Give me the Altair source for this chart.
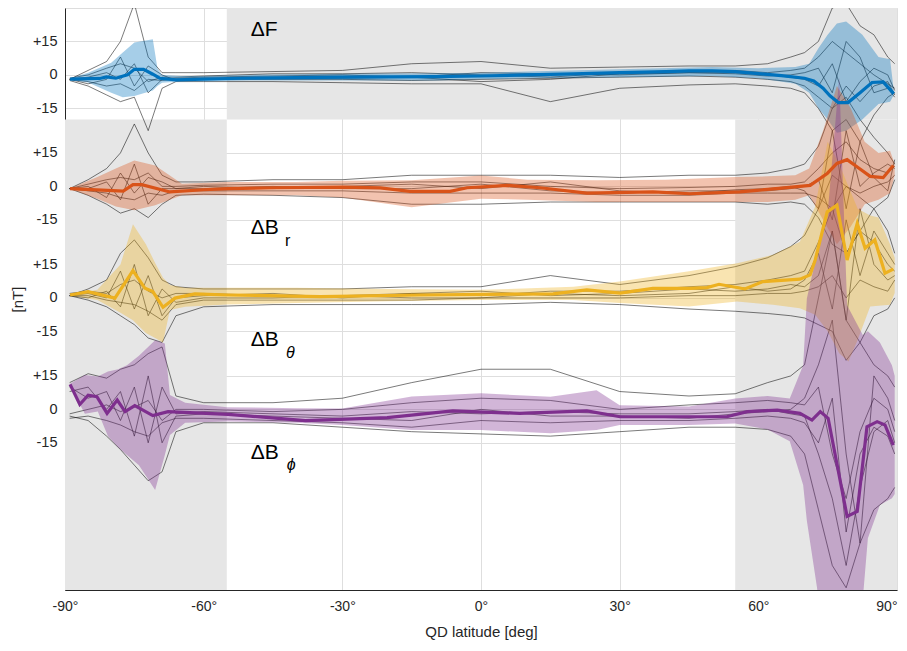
import altair as alt
import pandas as pd

# ---------------- data ----------------
comp_names = ["dF", "dBr", "dBtheta", "dBphi"]
comp_offsets = [0, -50, -100, -150]
comp_colors = ["#0072BD", "#D95319", "#EDB120", "#7E2F8E"]

x_ticks = [-90, -60, -30, 0, 30, 60, 90]
y_tick_labels = ["+15", "0", "-15"]
y_ticks = [15, 0, -15, -35, -50, -65, -85, -100, -115, -135, -150, -165]

# mean curves (relative, nT)
F_lat = [-88.9, -82.5, -81, -79, -76.5, -75, -73, -71, -69.5, -66, -60, -52, -40, -30, -20, -10, 0, 10, 20, 30, 40, 45, 50, 55, 60, 65, 70, 72, 74, 75.5, 77.3, 79.4, 82, 84.6, 87, 89.3]
F_val = [-1.9, -1.6, -0.9, -1.5, 0, 2.5, 2.5, 0.3, -1.5, -2.2, -1.9, -1.5, -1.2, -1.0, -0.9, -0.8, -0.5, 0, 0.5, 1.0, 1.5, 1.8, 1.8, 1.5, 0.6, -0.3, -1.5, -2.7, -6, -9.4, -12.4, -12.4, -8, -3.4, -3.1, -8.4]
Br_lat = [-88.9, -77.4, -75.3, -73.4, -67.3, -60, -54.7, -45, -30, -21.8, -15.4, -6.7, -3, 5.6, 12.8, 22.9, 37.2, 45.2, 56, 59.7, 65, 71.2, 74.9, 77, 79.2, 81.4, 84.2, 87, 89.2]
Br_val = [-1.0, -2.1, 0.8, 0.8, -2.5, -1.5, -1.0, -0.6, -0.3, -0.7, -2.2, -2.2, -0.6, 0.45, -0.6, -3.0, -2.5, -3.3, -2.5, -1.8, -0.8, 0.45, 5.8, 10.3, 12, 8.7, 4.5, 3.9, 9.4]
Th_lat = [-88.9, -85, -79.2, -75.3, -72.7, -71, -68.8, -66.2, -61.9, -54.7, -34.8, -13.2, 1.3, 15.6, 22.9, 30.1, 37.2, 45.2, 48.9, 51.5, 57.1, 61, 69, 71.2, 72.3, 74.9, 77, 79.2, 81.4, 83.1, 85.2, 87.4, 89.2]
Th_val = [1.3, 2.8, -0.1, 12.2, 4.3, 2.8, -4.2, -0.1, 1.8, 1.3, 0.6, 1.3, 1.6, 1.8, 3.6, 2.1, 4.3, 4.3, 4.6, 6.1, 4.0, 7.3, 8.4, 10.3, 17, 38.6, 41.6, 17, 33.4, 22.3, 26, 11.1, 12.9]
Ph_lat = [-88.9, -86.8, -85, -83.1, -80.9, -78.7, -77, -74.9, -71, -67.7, -54.7, -38, -20.3, -6.1, 8.4, 22.9, 30.1, 45.2, 53.2, 57.6, 64.1, 69, 71.6, 73.4, 75.1, 79.2, 81.4, 83.5, 85.7, 87.4, 89.2]
Ph_val = [11.2, 2.2, 6.4, 5.7, -1.8, 4.2, -1.0, 1.7, -2.8, -1.0, -2.2, -5.0, -3.7, -0.7, -1.8, -0.7, -3.3, -3.3, -3.3, -1.0, -0.3, -1.8, -4.8, -1.0, -4.0, -48, -45.8, -7.8, -5.5, -7.0, -16.0]

# spread bands (relative, nT)
F_band_lat = [-88.9, -85, -80, -77.5, -75, -71, -70, -69, -65, -60, -50, -30, -10, 0, 10, 30, 50, 60, 68, 71, 73, 75, 77, 79, 82.5, 86, 88.5, 89.3]
F_hi = [-1.5, 1, 5.5, 10, 14.5, 16, 3, 0, -0.5, -0.5, 0, 0.5, 0.7, 1, 1.5, 2.5, 3.5, 3, 3.5, 5, 12, 18, 23, 24, 18, 8, 7, -7]
F_lo = [-2.3, -3.4, -8, -10, -9.5, -7, -5, -3.5, -3, -3, -2.5, -2.5, -2.5, -2, -1.5, -1, -0.5, -1.5, -4, -8, -15, -20, -26, -25, -20, -13, -12, -9]
Br_band_lat = [-88.9, -83, -79, -75, -70.5, -64.7, -55, -40, -30, -15, 0, 10, 25, 40, 55, 62, 68, 71, 74, 77, 80, 83, 86, 88.5, 89.5]
Br_hi = [-0.8, 4.2, 8, 11.6, 9.4, 1.2, 2, 2, 2.5, 2.7, 4.9, 3, 2.7, 3, 4.2, 4.5, 5, 8, 25, 45, 35, 20, 15, 16, 10]
Br_lo = [-1.2, -5.5, -9, -10.7, -8.5, -4, -4, -4, -5, -9.3, -5.5, -6, -7, -7, -7, -7, -6, -4, -15, -26, -18, -8, -6, -3, 5]
Th_band_lat = [-88.9, -83, -78, -75.3, -72.5, -70.5, -68.8, -67.3, -64, -55, -40, -20, 0, 20, 30, 45, 55.4, 63.2, 69, 72.3, 75, 77.5, 79.5, 81.5, 84.2, 86, 88.5, 89.5]
Th_hi = [1.5, 3.6, 15, 33, 24, 15.7, 9, 5.8, 4.5, 4.5, 4.5, 4, 3.6, 5, 7.3, 12, 15.5, 19.3, 25.2, 41, 70, 60, 50, 40, 37, 36, 24, 18]
Th_lo = [1.0, -0.9, -6.7, -10, -15.7, -18, -20, -5.4, -4, -3, -2.3, -1.5, -0.9, -0.9, -2.3, -3.9, -1.6, -3.1, -4.6, -7.6, -15, -24.8, -28.5, -18.8, -3.9, -3.5, -3.1, 2.2]
Ph_band_lat = [-88.9, -85.7, -82.9, -80.7, -78.5, -76.6, -74, -70.5, -68.4, -67.3, -64, -55, -40, -30, -15, 0, 15, 25, 30, 45, 55, 62, 66.8, 69.7, 70.5, 72.7, 74.9, 77.5, 79.2, 82.6, 83.7, 86.3, 88.9, 89.5]
Ph_hi = [11.5, 15.4, 14.8, 17, 18, 19.8, 24, 31, 29.6, 6.4, 3, 1, 0.5, 0.4, 5.8, 7.2, 5.7, 8.6, 1.9, 1.3, 4.9, 6, 4.9, 19.8, 49.7, 70, 85.5, 149, 46.7, 33.3, 35, 30, 19.8, 15]
Ph_lo = [10.5, -2, -0.9, -12.1, -17, -20.5, -25, -36.1, -20.5, -11.5, -6, -5.4, -6, -7, -9.3, -9.3, -10.7, -9.3, -7, -7, -6.3, -9, -14.3, -33.9, -50, -80, -120, -130, -120, -85, -57.8, -42.9, -39.9, -38]

# individual passes (relative, nT) sampled on a common latitude grid
trace_lat = [-89, -85, -81, -78, -75, -72, -69, -66, -60, -45, -30, -15, 0, 15, 30, 45, 55, 62, 67, 70, 73, 76, 79, 82, 85, 88, 89.5]
F_pass_1 = [-2, 2, 6, 15, 32, 8, 1, 1, 1, 1.5, 2, 5, 6, 3, 3.5, 4, 4, 5, 8, 10, 15, 30, 32, 22, 18, 8, 5]
F_pass_2 = [-2.5, -5, -9, -12, -10, -25, -6, -3, -3, -3, -3.5, -4, -4, -12, -6, -4.5, -4, -5, -6, -8, -15, -25, -20, -30, -18, -10, -8]
F_pass_3 = [-1.5, 0, 3, 5, 3, -3, -1, -1, -0.5, 0.5, 0.5, 1, 0, -1, 1, 2, 2, 1, 2, 3, 8, 15, 10, 5, 0, -4, -6]
F_pass_4 = [-2, -3, -5, -4, -7, -2, -2.5, -2, -2, -2, -2, -2.5, -2, -1.5, -1, -0.5, -1, -2, -3, -5, -10, -15, -5, -12, -5, -3, -9]
F_pass_5 = [-2, -1, 1, -2, 5, -8, -2, -1.5, -1, -0.5, 0, -1, 1, 0.5, 0, 1, 1, 0, -1, -2, -5, 5, -12, -3, 3, 0, -7]
F_pass_6 = [-2, -4, -2, 8, -5, 4, 0, -2.5, -1.5, -1.5, -1.5, -1, -3, -2, 0.5, 1, 0.5, -0.5, 0, 1, 3, -8, 15, 8, -8, -6, -10]
Br_pass_1 = [-1, 3, 8, 15, 28, 15, 5, 2, 2, 3, 3, 5, 5, 5, 4, 5, 5, 6, 8, 10, 18, 35, 40, 30, 22, 15, 10]
Br_pass_2 = [-1, -4, -8, -12, -10, -14, -8, -4, -3.5, -4, -5, -8, -8, -7, -7, -7, -7, -8, -7, -8, -14, -26, -30, -20, -10, -5, 3]
Br_pass_3 = [-1, 1, 3, 4, 3, 6, 0, 0, 0.5, 1, 1, 2, 2, 0, -1, -0.5, 0, 1, 1, 2, 8, 15, 20, 12, 8, 6, 9]
Br_pass_4 = [-1, -2, -3, -5, -6, -3, -4, -2, -2, -2, -2, -3, -3, -3, -4, -4, -3, -3, -3, -3, -5, -10, 0, -3, 0, 2, 5]
Br_pass_5 = [-1, -1, 2, -6, 10, -8, -1, -1, -1, 0, -1, -1, 1, -2, -3, -2, -2, -2, -1, 0, 3, -15, 25, 0, 6, 10, 8]
Br_pass_6 = [-1, 0, -5, 6, -3, 4, 2, -1, 0, -1, 0, 1, -1, 2, -2, -3, -1.5, -1, 0, -2, -10, 25, -10, 20, 4, -2, 12]
Th_pass_1 = [1, 4, 8, 20, 26, 18, 8, 5, 4, 4, 4, 5, 5, 10, 6, 10, 14, 18, 23, 28, 40, 55, 50, 45, 40, 30, 20]
Th_pass_2 = [1, -1, -4, -8, -12, -18, -20, -8, -4, -3, -3, -3, -3, -2, -3, -5, -6, -7, -8, -9, -12, -15, -28, -20, -8, -5, 0]
Th_pass_3 = [2, 3, 2, 6, 8, 3, 0, 2, 2, 1, 1, 2, 1, 3, 3, 5, 6, 8, 10, 12, 25, 40, 20, 30, 25, 15, 12]
Th_pass_4 = [1, 1, -1, -2, -3, -6, -10, -3, -1, -1, -1, -1, 0, 0, 0, 1, 1, 2, 2, 3, 5, 10, 0, 8, 5, 3, 8]
Th_pass_5 = [1, 2, 0, 12, -5, 10, -8, 0, 1, 2, 0, 2, 3, 1, 2, 4, 3, 4, 6, 5, 10, 30, -10, 40, 15, 8, 10]
Th_pass_6 = [1, 0, 3, -4, 15, -8, 4, -2, 0, 0, 1, 0, 0, 2, 1, 2, 5, 3, 4, 8, 20, -5, 35, 10, 30, 20, 15]
Ph_pass_1 = [12, 16, 14, 18, 20, 25, 28, 6, 3, 3, 5, 12, 18, 18, 8, 6, 7, 12, 15, 20, 50, 80, 40, 30, 20, 15, 10]
Ph_pass_2 = [-3, -5, -12, -18, -25, -32, -28, -10, -6, -6, -8, -10, -11, -12, -10, -8, -8, -9, -12, -20, -45, -70, -80, -60, -45, -40, -35]
Ph_pass_3 = [-2, 0, 2, -1, 1, 4, -5, 0, 0, -1, 0, 3, 5, 4, 0, 2, 3, 4, 3, 2, 10, -20, -40, -10, 5, 0, -10]
Ph_pass_4 = [-4, -3, -5, -7, -10, -12, -6, -4, -4, -5, -6, -8, -5, -6, -5, -5, -4, -3, -4, -6, -15, 5, -55, -20, -8, -12, -20]
Ph_pass_5 = [10, 5, 8, -5, 10, -15, 10, -2, -1, -2, -3, -1, -2, -1, -2, -2, -1, 0, -2, -3, -20, -40, -70, -35, -10, -5, -15]
Ph_pass_6 = [8, 10, 0, 8, -12, 15, -15, -3, -2, -3, -4, -5, 0, -3, -3, -4, -2, -1, 0, 5, 20, 40, -20, -60, 15, 5, -5]

# shaded regions (lat from, lat to, y from, y to)
shade_lat1 = [-55, -90, 55]
shade_lat2 = [90, -55, 90]
shade_y1 = [-20, -231, -231]
shade_y2 = [30, -20, -20]

# labels
label_main = ["ΔF", "ΔB", "ΔB", "ΔB"]
label_main_lat = [-49.8, -49.8, -49.8, -49.8]
label_main_y = [20.1, -68.7, -118.8, -169.5]
label_sub_up = ["r"]
label_sub_up_lat = [-42.4]
label_sub_up_y = [-74.5]
label_sub_it = ["θ", "ϕ"]
label_sub_it_lat = [-42.2, -42.0]
label_sub_it_y = [-124.5, -175.0]

# ---------------- tables ----------------
means, bands, passes = [], [], []
mean_src = [(F_lat, F_val), (Br_lat, Br_val), (Th_lat, Th_val), (Ph_lat, Ph_val)]
band_src = [(F_band_lat, F_hi, F_lo), (Br_band_lat, Br_hi, Br_lo), (Th_band_lat, Th_hi, Th_lo), (Ph_band_lat, Ph_hi, Ph_lo)]
pass_src = [[F_pass_1, F_pass_2, F_pass_3, F_pass_4, F_pass_5, F_pass_6],
            [Br_pass_1, Br_pass_2, Br_pass_3, Br_pass_4, Br_pass_5, Br_pass_6],
            [Th_pass_1, Th_pass_2, Th_pass_3, Th_pass_4, Th_pass_5, Th_pass_6],
            [Ph_pass_1, Ph_pass_2, Ph_pass_3, Ph_pass_4, Ph_pass_5, Ph_pass_6]]
for name, off, (la, va), (bl, hi, lo), plist in zip(comp_names, comp_offsets, mean_src, band_src, pass_src):
    means.append(pd.DataFrame({"comp": name, "lat": la, "y": [v + off for v in va]}))
    bands.append(pd.DataFrame({"comp": name, "lat": bl, "y": [v + off for v in hi], "y2": [v + off for v in lo]}))
    for k, pv in enumerate(plist):
        passes.append(pd.DataFrame({"comp": name, "pid": f"{name}_{k}", "lat": trace_lat, "y": [v + off for v in pv]}))
means = pd.concat(means)
bands = pd.concat(bands)
passes = pd.concat(passes)
shade = pd.DataFrame({"lat": shade_lat1, "lat2": shade_lat2, "y": shade_y1, "y2": shade_y2})
lab_main = pd.DataFrame({"t": label_main, "lat": label_main_lat, "y": label_main_y})
lab_sub_up = pd.DataFrame({"t": label_sub_up, "lat": label_sub_up_lat, "y": label_sub_up_y})
lab_sub_it = pd.DataFrame({"t": label_sub_it, "lat": label_sub_it_lat, "y": label_sub_it_y})

FONT = "Liberation Sans"
TXT = "#262626"

x_axis = alt.Axis(values=x_ticks, labelExpr="datum.value + '°'", title="QD latitude [deg]",
                  grid=True, gridColor="#DEDEDE", domainColor=TXT, ticks=False, labelPadding=9,
                  labelFlush=False,
                  labelAlign={"condition": {"test": "datum.value == 90", "value": "right"}, "value": "center"},
                  labelFontSize=14, labelColor=TXT, labelFont=FONT,
                  titleFontSize=15, titleFont=FONT, titleColor=TXT, titleFontWeight="normal",
                  titlePadding=11)
lab_expr = ("(datum.value - round(datum.value/50)*50) > 0 ? '+' + (datum.value - round(datum.value/50)*50)"
            " : '' + (datum.value - round(datum.value/50)*50)")
y_axis = alt.Axis(values=y_ticks, labelExpr=lab_expr, title="[nT]", grid=True, gridColor="#DEDEDE",
                  domainColor=TXT, ticks=False, labelPadding=8, labelFontSize=14.5, labelColor=TXT,
                  labelFont=FONT, titleFontSize=15, titleFont=FONT, titleColor=TXT,
                  titleFontWeight="normal", titleX=-48, titleY=291, titleBaseline="middle")

X = alt.X("lat:Q", scale=alt.Scale(domain=[-90, 90], nice=False, zero=False), axis=x_axis)
Y = alt.Y("y:Q", scale=alt.Scale(domain=[-231, 30], nice=False, zero=False), axis=y_axis)
col = alt.Color("comp:N", scale=alt.Scale(domain=comp_names, range=comp_colors), legend=None)

shade_l = alt.Chart(shade).mark_rect(color="#E6E6E6").encode(x=X, x2="lat2:Q", y=Y, y2="y2:Q")
pass_l = alt.Chart(passes).mark_line(color="black", strokeWidth=0.7, opacity=0.75, clip=True
                                     ).encode(x=X, y=Y, detail="pid:N")
band_l = alt.Chart(bands).mark_area(opacity=0.35, clip=True).encode(x=X, y=Y, y2="y2:Q", color=col, detail="comp:N")
mean_l = alt.Chart(means).mark_line(strokeWidth=3.2, clip=True).encode(x=X, y=Y, color=col, detail="comp:N")
text_l = alt.Chart(lab_main).mark_text(align="left", baseline="middle", fontSize=21, font=FONT,
                                       color="black").encode(x=X, y=Y, text="t:N")
sub_up = alt.Chart(lab_sub_up).mark_text(align="left", baseline="middle", fontSize=16, font=FONT,
                                         color="black").encode(x=X, y=Y, text="t:N")
sub_it = alt.Chart(lab_sub_it).mark_text(align="left", baseline="middle", fontSize=16, font=FONT,
                                         color="black", fontStyle="italic").encode(x=X, y=Y, text="t:N")

chart = alt.layer(shade_l, pass_l, band_l, mean_l, text_l, sub_up, sub_it).properties(
    width=832, height=582, autosize=alt.AutoSizeParams(type="none"),
    padding={"left": 57, "top": 0, "right": 2, "bottom": 53},
).configure_view(stroke=None).configure(background="white")

chart.save("out.html", embed_options={"renderer": "svg", "actions": False})
